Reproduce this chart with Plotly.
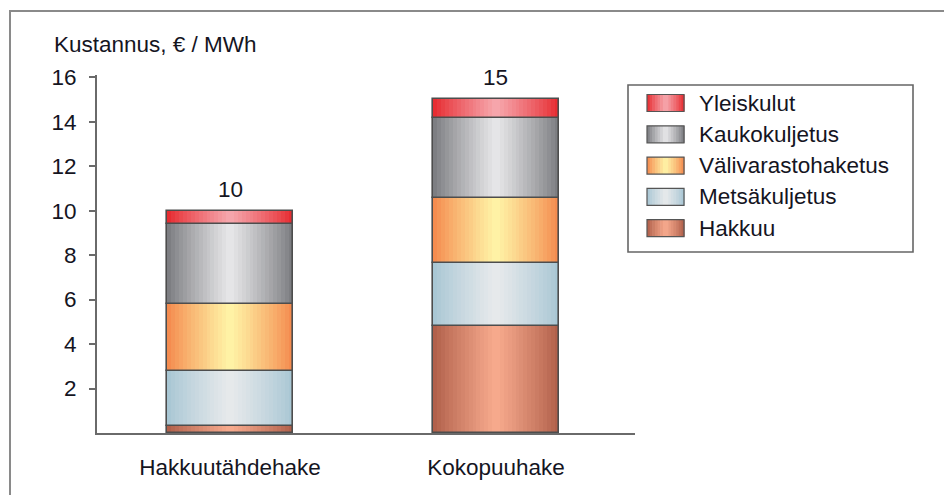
import plotly.graph_objects as go

# Cost per MWh, stacked by cost component
categories = ["Hakkuutähdehake", "Kokopuuhake"]
series_names = ["Hakkuu", "Metsäkuljetus", "Välivarastohaketus", "Kaukokuljetus", "Yleiskulut"]
hakkuu = [0.3, 4.8]
metsakuljetus = [2.5, 2.85]
valivarastohaketus = [3.0, 2.9]
kaukokuljetus = [3.6, 3.6]
yleiskulut = [0.6, 0.85]
totals = [10, 15]
y_ticks = [2, 4, 6, 8, 10, 12, 14, 16]

series_values = [hakkuu, metsakuljetus, valivarastohaketus, kaukokuljetus, yleiskulut]
# (edge colour, highlight colour) for the cylinder shading
shades = [
    ("#ad5c47", "#f8ab8e"),
    ("#a6c5d3", "#e8eaec"),
    ("#f4864a", "#fff5a8"),
    ("#77787c", "#e8e8ea"),
    ("#e6262b", "#f6a8ae"),
]

W, H = 944, 495
L, R, T, B = 97, 309, 75, 62
PW, PH = W - L - R, H - T - B
Y_MAX = 16.1
TXT = "#15151f"
FONT = "Liberation Sans, Arial, sans-serif"
FS = 22.5


def hex2rgb(h):
    h = h.lstrip("#")
    return tuple(int(h[i:i + 2], 16) for i in (0, 2, 4))


def mix(c1, c2, f):
    a, b = hex2rgb(c1), hex2rgb(c2)
    return "rgb(%d,%d,%d)" % tuple(round(a[k] + (b[k] - a[k]) * f) for k in range(3))


def shade_at(t, edge, mid):
    f = max(0.0, 1 - abs(2 * t - 1)) ** 0.85
    return mix(edge, mid, f)


def px_x(px):
    return (px - L) / PW


def px_y(py):
    return (H - B - py) / PH


fig = go.Figure()

BAR_W = 0.47
N_STRIPS = 32
bases = [0.0] * len(categories)
for vals, (edge, mid) in zip(series_values, shades):
    step = BAR_W / N_STRIPS
    for i in range(N_STRIPS):
        t = (i + 0.5) / N_STRIPS
        w = step * (1.6 if i < N_STRIPS - 1 else 1.0)
        fig.add_trace(go.Bar(
            x=categories, y=vals, base=list(bases),
            width=w, offset=-BAR_W / 2 + i * step,
            marker=dict(color=shade_at(t, edge, mid), line=dict(width=0)),
            showlegend=False, hoverinfo="skip",
        ))
    # segment outline
    fig.add_trace(go.Bar(
        x=categories, y=vals, base=list(bases),
        width=BAR_W, offset=-BAR_W / 2,
        marker=dict(color="rgba(0,0,0,0)", line=dict(color="#4d4d4d", width=1.6)),
        showlegend=False, hoverinfo="skip",
    ))
    bases = [b + v for b, v in zip(bases, vals)]

annotations = []
for cat, tot in zip(categories, totals):
    annotations.append(dict(
        x=cat, y=tot, xref="x", yref="y", text=str(tot), showarrow=False,
        yanchor="bottom", yshift=7, font=dict(family=FONT, size=FS, color=TXT),
    ))

annotations.append(dict(
    x=px_x(52), y=px_y(45), xref="paper", yref="paper", xanchor="left", yanchor="middle",
    text="Kustannus, € / MWh", showarrow=False, font=dict(family=FONT, size=FS, color=TXT),
))

shapes = []
# outer frame
shapes.append(dict(type="rect", xref="paper", yref="paper",
                   x0=px_x(10), x1=px_x(W + 20), y0=px_y(11), y1=px_y(H + 20),
                   line=dict(color="#8a8a8a", width=2), fillcolor="rgba(0,0,0,0)", layer="below"))
# legend box
shapes.append(dict(type="rect", xref="paper", yref="paper",
                   x0=px_x(628), x1=px_x(913), y0=px_y(85), y1=px_y(252),
                   line=dict(color="#666666", width=1.6), fillcolor="white"))

legend_rows = list(zip(series_names, shades))[::-1]
row_y0, row_gap = 103, 31.3
sw_x0, sw_w, sw_h = 647, 37, 17
n_sw = 14
for r, (name, (edge, mid)) in enumerate(legend_rows):
    cy = row_y0 + r * row_gap
    for i in range(n_sw):
        t = (i + 0.5) / n_sw
        x0 = sw_x0 + i * sw_w / n_sw
        shapes.append(dict(type="rect", xref="paper", yref="paper",
                           x0=px_x(x0), x1=px_x(x0 + sw_w / n_sw + 0.6),
                           y0=px_y(cy - sw_h / 2), y1=px_y(cy + sw_h / 2),
                           line=dict(width=0), fillcolor=shade_at(t, edge, mid)))
    shapes.append(dict(type="rect", xref="paper", yref="paper",
                       x0=px_x(sw_x0), x1=px_x(sw_x0 + sw_w),
                       y0=px_y(cy - sw_h / 2), y1=px_y(cy + sw_h / 2),
                       line=dict(color="#555555", width=1.2), fillcolor="rgba(0,0,0,0)"))
    annotations.append(dict(
        x=px_x(697), y=px_y(cy), xref="paper", yref="paper", xanchor="left", yanchor="middle",
        text=name, showarrow=False, font=dict(family=FONT, size=FS, color=TXT),
    ))

fig.update_layout(
    width=W, height=H,
    margin=dict(l=L, r=R, t=T, b=B, pad=0),
    paper_bgcolor="white", plot_bgcolor="white",
    barmode="overlay", bargap=0,
    showlegend=False,
    font=dict(family=FONT, size=FS, color=TXT),
    annotations=annotations, shapes=shapes,
    xaxis=dict(
        type="category", range=[-0.5, 1.5226], showgrid=False, zeroline=False,
        showline=True, linecolor="#6a6a6a", linewidth=2, ticks="",
        ticklabelstandoff=13, tickfont=dict(family=FONT, size=FS, color=TXT),
    ),
    yaxis=dict(
        range=[0, Y_MAX], tickvals=y_ticks, showgrid=False, zeroline=False,
        showline=True, linecolor="#6a6a6a", linewidth=2,
        ticks="outside", ticklen=6, tickwidth=1.5, tickcolor="#6a6a6a",
        ticklabelstandoff=8, tickfont=dict(family=FONT, size=FS, color=TXT),
    ),
)

fig.write_html("out.html")
